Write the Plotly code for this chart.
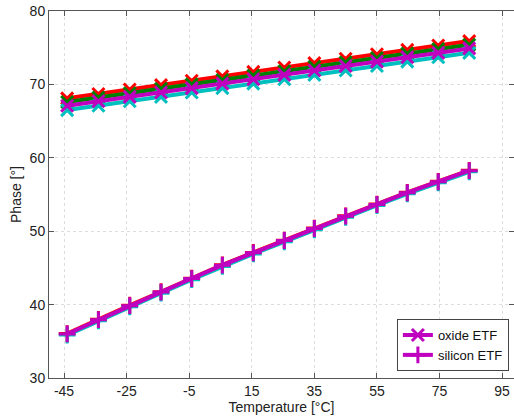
import plotly.graph_objects as go

# Temperatures (°C) at which the phase was measured
temps = [-44, -34, -24, -14, -4.2, 5.6, 15.5, 25.4, 35, 45, 55, 64.7, 74.6, 84.5]

# Oxide ETF group (x markers)
oxide_red     = [68.1, 68.7, 69.3, 69.9, 70.5, 71.1, 71.7, 72.3, 72.9, 73.5, 74.1, 74.7, 75.3, 75.9]
oxide_green   = [67.6, 68.2, 68.8, 69.4, 70.0, 70.6, 71.2, 71.8, 72.4, 73.0, 73.6, 74.2, 74.8, 75.4]
oxide_magenta = [67.1, 67.7, 68.3, 68.9, 69.5, 70.1, 70.7, 71.3, 71.9, 72.5, 73.1, 73.7, 74.3, 74.9]
oxide_cyan    = [66.5, 67.1, 67.7, 68.3, 68.9, 69.5, 70.1, 70.7, 71.3, 71.9, 72.5, 73.1, 73.7, 74.3]

# Silicon ETF group (+ markers)
silicon_red     = [36.05, 38.0, 39.91, 41.75, 43.6, 45.42, 47.1, 48.78, 50.42, 52.1, 53.69, 55.29, 56.79, 58.29]
silicon_cyan    = [35.85, 37.8, 39.7, 41.55, 43.4, 45.2, 46.9, 48.55, 50.2, 51.9, 53.5, 55.1, 56.6, 58.1]
silicon_magenta = [36.0, 37.95, 39.86, 41.7, 43.55, 45.37, 47.05, 48.73, 50.37, 52.05, 53.64, 55.24, 56.74, 58.24]

x_ticks = [-45, -25, -5, 15, 35, 55, 75, 95]
y_ticks = [30, 40, 50, 60, 70, 80]

RED = "#ff0000"
GREEN = "#008000"
MAGENTA = "#bf00bf"
CYAN = "#00bfbf"

FONT = "Liberation Sans, Arial"

fig = go.Figure()


def add(y, color, symbol, name=None, show=False):
    fig.add_trace(go.Scatter(
        x=temps, y=y, mode="lines+markers", name=name, showlegend=show,
        line=dict(color=color, width=4),
        marker=dict(symbol=symbol, size=12, color=color,
                    line=dict(color=color, width=3)),
    ))


add(oxide_red, RED, "x-thin")
add(oxide_green, GREEN, "x-thin")
add(oxide_cyan, CYAN, "x-thin")
add(oxide_magenta, MAGENTA, "x-thin", "oxide ETF", True)
add(silicon_red, RED, "cross-thin")
add(silicon_cyan, CYAN, "cross-thin")
add(silicon_magenta, MAGENTA, "cross-thin", "silicon ETF", True)

axis_common = dict(
    showline=True, linecolor="#555555", linewidth=1, mirror="ticks",
    ticks="inside", ticklen=5, tickcolor="#555555",
    showgrid=True, gridcolor="#dddddd", griddash="dot", gridwidth=1,
    zeroline=False, automargin=False,
    tickfont=dict(family=FONT, size=14, color="#222222"),
    title_font=dict(family=FONT, size=14, color="#222222"),
)

fig.update_layout(
    width=514, height=418,
    margin=dict(l=49, r=0, t=11, b=40),
    paper_bgcolor="white", plot_bgcolor="white",
    xaxis=dict(range=[-49.8, 98.8], tickvals=x_ticks,
               ticktext=[str(v) for v in x_ticks],
               title=dict(text="Temperature [°C]", standoff=3), **axis_common),
    yaxis=dict(range=[30, 80], tickvals=y_ticks,
               title=dict(text="Phase [°]", standoff=4), **axis_common),
    legend=dict(x=0.989, y=0.019, xanchor="right", yanchor="bottom",
                bgcolor="white", bordercolor="#444444", borderwidth=1,
                font=dict(family=FONT, size=13, color="#111111"),
                tracegroupgap=0),
)

fig.write_html(
    "out.html",
    config={"displayModeBar": False},
    post_script="document.body.style.margin='0px';document.body.style.overflow='hidden';",
)
